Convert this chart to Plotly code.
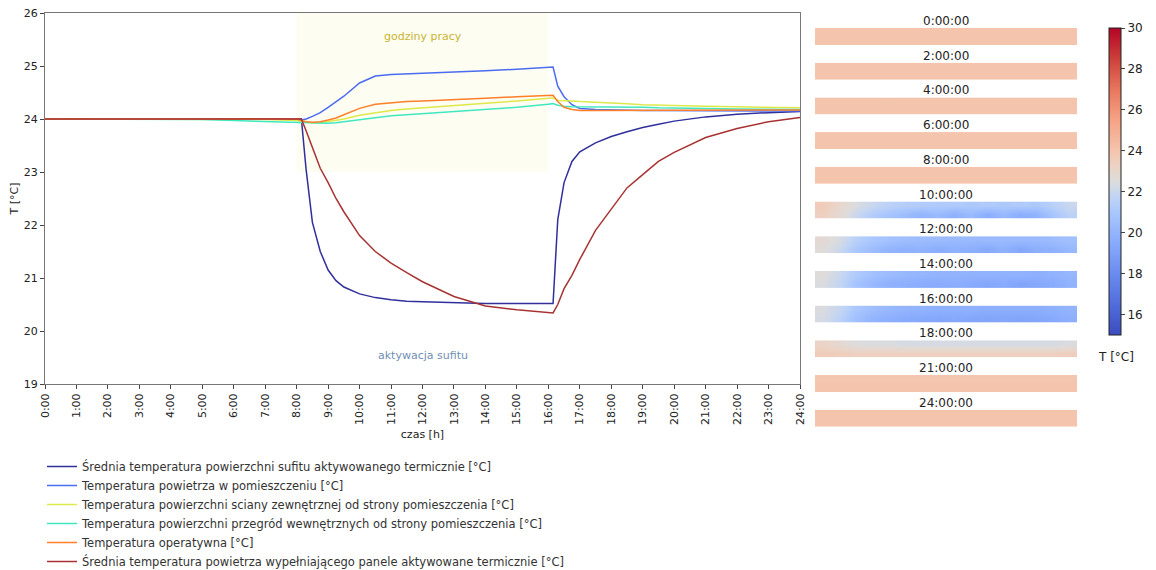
import plotly.graph_objects as go

# ---------------- data ----------------
t = [0, 1, 2, 3, 4, 5, 6, 7, 8, 8.15, 8.3, 8.5, 8.75, 9, 9.25, 9.5, 10, 10.5, 11, 11.5,
     12, 13, 14, 15, 16, 16.15, 16.3, 16.5, 16.75, 17, 17.5, 18, 18.5, 19, 19.5, 20,
     21, 22, 23, 24]

sufit_pow = [24.0, 24.0, 24.0, 24.0, 24.0, 24.0, 24.0, 24.0, 24.0, 24.0, 23.05, 22.05, 21.5, 21.15, 20.95, 20.83,
             20.7, 20.63, 20.59, 20.56, 20.55, 20.53, 20.52, 20.52, 20.52, 20.52, 22.1, 22.8, 23.2, 23.38,
             23.55, 23.67, 23.76, 23.84, 23.9, 23.96, 24.04, 24.09, 24.12, 24.14]
powietrze = [24.0, 24.0, 24.0, 24.0, 24.0, 24.0, 24.0, 24.0, 24.0, 23.98, 24.0, 24.05, 24.12, 24.22, 24.32, 24.43,
             24.68, 24.81, 24.84, 24.85, 24.86, 24.88, 24.91, 24.94, 24.97, 24.98, 24.62, 24.42, 24.27, 24.2,
             24.18, 24.17, 24.17, 24.16, 24.16, 24.16, 24.16, 24.15, 24.15, 24.15]
sciana_zewn = [24.0, 24.0, 24.0, 24.0, 24.0, 24.0, 24.0, 23.99, 23.97, 23.96, 23.94, 23.93, 23.93, 23.95, 23.97, 24.0,
               24.07, 24.12, 24.16, 24.19, 24.21, 24.26, 24.3, 24.34, 24.39, 24.4, 24.35, 24.34, 24.34, 24.33,
               24.32, 24.31, 24.29, 24.27, 24.26, 24.25, 24.24, 24.23, 24.22, 24.21]
przegrody_wewn = [24.0, 24.0, 24.0, 24.0, 24.0, 23.99, 23.97, 23.95, 23.94, 23.93, 23.93, 23.92, 23.92, 23.92, 23.93, 23.95,
                  23.99, 24.03, 24.06, 24.08, 24.1, 24.14, 24.18, 24.22, 24.28, 24.29, 24.26, 24.24, 24.23, 24.23,
                  24.23, 24.23, 24.22, 24.22, 24.21, 24.21, 24.2, 24.19, 24.19, 24.18]
operatywna = [24.0, 24.0, 24.0, 24.0, 24.0, 24.0, 24.0, 24.0, 24.0, 23.97, 23.95, 23.94, 23.95, 23.98, 24.02, 24.08,
              24.2, 24.28, 24.31, 24.33, 24.34, 24.36, 24.39, 24.42, 24.45, 24.45, 24.33, 24.22, 24.18, 24.16,
              24.16, 24.16, 24.16, 24.16, 24.16, 24.16, 24.16, 24.16, 24.16, 24.17]
panele_powietrze = [24.0, 24.0, 24.0, 24.0, 24.0, 24.0, 24.0, 24.0, 24.0, 24.0, 23.78, 23.45, 23.07, 22.8, 22.5, 22.25,
                    21.8, 21.5, 21.28, 21.1, 20.93, 20.65, 20.47, 20.4, 20.35, 20.34, 20.5, 20.8, 21.05, 21.35,
                    21.9, 22.3, 22.7, 22.95, 23.2, 23.37, 23.65, 23.82, 23.95, 24.03]

series_names = [
    "Średnia temperatura powierzchni sufitu aktywowanego termicznie [°C]",
    "Temperatura powietrza w pomieszczeniu [°C]",
    "Temperatura powierzchni sciany zewnętrznej od strony pomieszczenia [°C]",
    "Temperatura powierzchni przegród wewnętrznych od strony pomieszczenia [°C]",
    "Temperatura operatywna [°C]",
    "Średnia temperatura powietrza wypełniającego panele aktywowane termicznie [°C]",
]
series_values = [sufit_pow, powietrze, sciana_zewn, przegrody_wewn, operatywna, panele_powietrze]
series_colors = ["#30309c", "#4a6cf0", "#dde84a", "#40e8c0", "#ff7f2a", "#a83232"]

x_ticks = list(range(0, 25))
x_tick_labels = [f"{h}:00" for h in x_ticks]

strip_labels = ["0:00:00", "2:00:00", "4:00:00", "6:00:00", "8:00:00", "10:00:00",
                "12:00:00", "14:00:00", "16:00:00", "18:00:00", "21:00:00", "24:00:00"]
strip_top = [
    [24.0, 24.0, 24.0, 24.0, 24.0, 24.0, 24.0, 24.0, 24.0, 24.0, 24.0, 24.0, 24.0, 24.0, 24.0, 24.0],
    [24.0, 24.0, 24.0, 24.0, 24.0, 24.0, 24.0, 24.0, 24.0, 24.0, 24.0, 24.0, 24.0, 24.0, 24.0, 24.0],
    [24.0, 24.0, 24.0, 24.0, 23.95, 24.0, 24.0, 24.0, 24.0, 24.0, 24.0, 24.0, 24.0, 24.0, 24.0, 24.0],
    [24.0, 24.0, 24.0, 24.0, 24.0, 24.0, 24.0, 24.0, 24.0, 24.0, 24.0, 24.0, 24.0, 24.0, 24.0, 24.0],
    [24.0, 24.0, 24.0, 24.0, 24.0, 24.0, 24.0, 24.0, 24.0, 24.0, 24.0, 24.0, 24.0, 24.0, 24.0, 24.0],
    [23.6, 23.0, 22.4, 22.0, 21.6, 21.4, 21.3, 21.2, 21.2, 21.1, 21.2, 21.1, 21.2, 21.1, 21.5, 22.0],
    [22.8, 22.3, 21.5, 21.0, 20.7, 20.5, 20.4, 20.4, 20.3, 20.3, 20.3, 20.3, 20.3, 20.3, 20.4, 20.6],
    [22.6, 22.0, 21.2, 20.7, 20.4, 20.2, 20.1, 20.0, 20.0, 19.9, 19.9, 19.9, 19.9, 19.8, 19.9, 20.1],
    [22.4, 21.9, 21.0, 20.5, 20.2, 20.0, 19.9, 19.8, 19.8, 19.8, 19.7, 19.7, 19.7, 19.7, 19.8, 20.0],
    [23.2, 22.8, 22.5, 22.4, 22.4, 22.3, 22.3, 22.3, 22.3, 22.3, 22.3, 22.3, 22.3, 22.3, 22.3, 22.4],
    [23.9, 23.9, 23.9, 23.9, 23.9, 23.9, 23.9, 23.9, 23.9, 23.9, 23.9, 23.9, 23.9, 23.9, 23.9, 23.9],
    [24.0, 24.0, 24.0, 24.0, 24.0, 24.0, 24.0, 24.0, 24.0, 24.0, 24.0, 24.0, 24.0, 24.0, 24.0, 24.0],
]
strip_bottom = [
    [24.0, 24.0, 24.0, 24.0, 24.0, 24.0, 24.0, 24.0, 24.0, 24.0, 24.0, 24.0, 24.0, 24.0, 24.0, 24.0],
    [24.0, 24.0, 24.0, 24.0, 24.0, 24.0, 24.0, 24.0, 24.0, 24.0, 24.0, 24.0, 24.0, 24.0, 24.0, 24.0],
    [24.0, 24.0, 24.0, 24.0, 24.0, 24.0, 24.0, 24.0, 24.0, 24.0, 24.0, 24.0, 24.0, 24.0, 24.0, 24.0],
    [24.0, 24.0, 24.0, 24.0, 24.0, 24.0, 24.0, 24.0, 24.0, 24.0, 24.0, 24.0, 24.0, 24.0, 24.0, 24.0],
    [24.0, 24.0, 24.0, 24.0, 24.0, 24.0, 24.0, 24.0, 24.0, 24.0, 24.0, 24.0, 24.0, 24.0, 24.0, 24.0],
    [23.4, 22.8, 22.0, 21.3, 20.8, 20.4, 20.0, 20.3, 19.8, 20.3, 19.6, 20.2, 19.6, 19.9, 20.8, 21.6],
    [22.6, 22.0, 21.0, 20.4, 20.0, 19.8, 19.9, 19.6, 19.8, 19.7, 19.4, 19.8, 19.3, 19.7, 19.8, 20.2],
    [22.4, 21.8, 20.8, 20.2, 19.8, 19.7, 19.6, 19.5, 19.6, 19.5, 19.3, 19.5, 19.2, 19.4, 19.5, 19.9],
    [22.3, 21.6, 20.6, 20.0, 19.7, 19.5, 19.4, 19.3, 19.4, 19.3, 19.2, 19.3, 19.2, 19.3, 19.4, 19.7],
    [23.6, 23.5, 23.4, 23.4, 23.4, 23.4, 23.4, 23.4, 23.4, 23.4, 23.4, 23.4, 23.4, 23.4, 23.4, 23.5],
    [24.0, 24.0, 24.0, 24.0, 24.0, 24.0, 24.0, 24.0, 24.0, 24.0, 24.0, 24.0, 24.0, 24.0, 24.0, 24.0],
    [24.0, 24.0, 24.0, 24.0, 24.0, 24.0, 24.0, 24.0, 24.0, 24.0, 24.0, 24.0, 24.0, 24.0, 24.0, 24.0],
]
cb_ticks = [16, 18, 20, 22, 24, 26, 28, 30]

coolwarm = [
    [0.0, "#3b4cc0"], [0.1, "#516ddb"], [0.2, "#6a8bef"], [0.3, "#88abfd"],
    [0.4, "#aac7fd"], [0.45, "#c0d4f5"], [0.5, "#dddcdc"], [0.55, "#ecd3c5"],
    [0.6, "#f4c4ac"], [0.7, "#f6a385"], [0.8, "#e8765c"], [0.9, "#cc403a"],
    [1.0, "#b40426"],
]

# ---------------- figure ----------------
W, H = 1156, 570
OFF = 8  # page body margin in the browser
FONT = "DejaVu Sans"


def px_x(p):
    return (p - OFF) / W


def px_y(p):
    return 1 - (p - OFF) / H


fig = go.Figure()

for name, vals, col in zip(series_names, series_values, series_colors):
    fig.add_trace(go.Scatter(x=t, y=vals, mode="lines", name=name,
                             line=dict(color=col, width=1.5),
                             xaxis="x", yaxis="y"))

pitch = 34.7
strip_h = 17
layout_axes = {}
annotations = []
for i, (lab, top, bot) in enumerate(zip(strip_labels, strip_top, strip_bottom)):
    n = i + 2
    fig.add_trace(go.Heatmap(z=[top, bot], x=list(range(16)), y=[0, 1],
                             coloraxis="coloraxis", xaxis="x2", yaxis=f"y{n}",
                             zsmooth="best", showlegend=False))
    y_top = 28 + pitch * i
    layout_axes[f"yaxis{n}"] = dict(domain=[px_y(y_top + strip_h), px_y(y_top)], range=[1.5, -0.5],
                                    visible=False, anchor="x2", automargin=False)
    annotations.append(dict(text=lab, x=px_x(946), y=px_y(21 + pitch * i), xref="paper", yref="paper",
                            showarrow=False, xanchor="center", yanchor="middle",
                            font=dict(family=FONT, size=12, color="#222")))

annotations.append(dict(text="T [°C]", x=px_x(1116), y=px_y(357), xref="paper", yref="paper",
                        showarrow=False, xanchor="center", yanchor="middle",
                        font=dict(family=FONT, size=12, color="#222")))
annotations.append(dict(text="godziny pracy", x=12, y=25.55, xref="x", yref="y", showarrow=False,
                        font=dict(family=FONT, size=11, color="#c8b430")))
annotations.append(dict(text="aktywacja sufitu", x=12, y=19.54, xref="x", yref="y", showarrow=False,
                        font=dict(family=FONT, size=11, color="#6f8fb5")))

fig.update_layout(
    width=W, height=H,
    margin=dict(l=0, r=0, t=0, b=0, autoexpand=False),
    paper_bgcolor="white", plot_bgcolor="white",
    font=dict(family=FONT, size=11, color="#222"),
    xaxis=dict(domain=[px_x(45), px_x(800)], range=[0, 24], tickvals=x_ticks, ticktext=x_tick_labels,
               tickangle=-90, ticks="outside", ticklen=4, showline=True, mirror=True,
               linecolor="#777", linewidth=1, showgrid=False, zeroline=False, automargin=False,
               ticklabeloverflow="allow",
               title=dict(text="czas [h]", font=dict(size=11), standoff=6),
               tickfont=dict(size=11), anchor="y"),
    yaxis=dict(domain=[px_y(384), px_y(13)], range=[19, 26], dtick=1, ticks="outside", ticklen=4,
               showline=True, mirror=True, linecolor="#777", linewidth=1, showgrid=False,
               zeroline=False, automargin=False, ticklabeloverflow="allow",
               title=dict(text="T [°C]", font=dict(size=11), standoff=2),
               tickfont=dict(size=11), anchor="x"),
    xaxis2=dict(domain=[px_x(815), px_x(1077)], range=[-0.5, 15.5], visible=False, anchor="y2",
                automargin=False),
    coloraxis=dict(colorscale=coolwarm, cmin=15, cmax=30,
                   colorbar=dict(x=px_x(1109), xanchor="left", y=px_y(28), yanchor="top",
                                 len=(335 - 28) / H, lenmode="fraction", thickness=12,
                                 xpad=0, ypad=0,
                                 tickvals=cb_ticks, ticks="outside", ticklen=4,
                                 outlinewidth=1, outlinecolor="#222",
                                 tickfont=dict(family=FONT, size=12, color="#222"))),
    legend=dict(x=px_x(42), y=px_y(452), xanchor="left", yanchor="top", orientation="v",
                font=dict(family=FONT, size=11.5, color="#333"), bgcolor="rgba(0,0,0,0)",
                tracegroupgap=0, itemwidth=30),
    shapes=[dict(type="rect", xref="x", yref="y", x0=8, x1=16, y0=23.0, y1=26,
                 fillcolor="#fefdf1", line=dict(width=0), layer="below")],
    annotations=annotations,
    **layout_axes,
)

fig.write_html("out.html")
